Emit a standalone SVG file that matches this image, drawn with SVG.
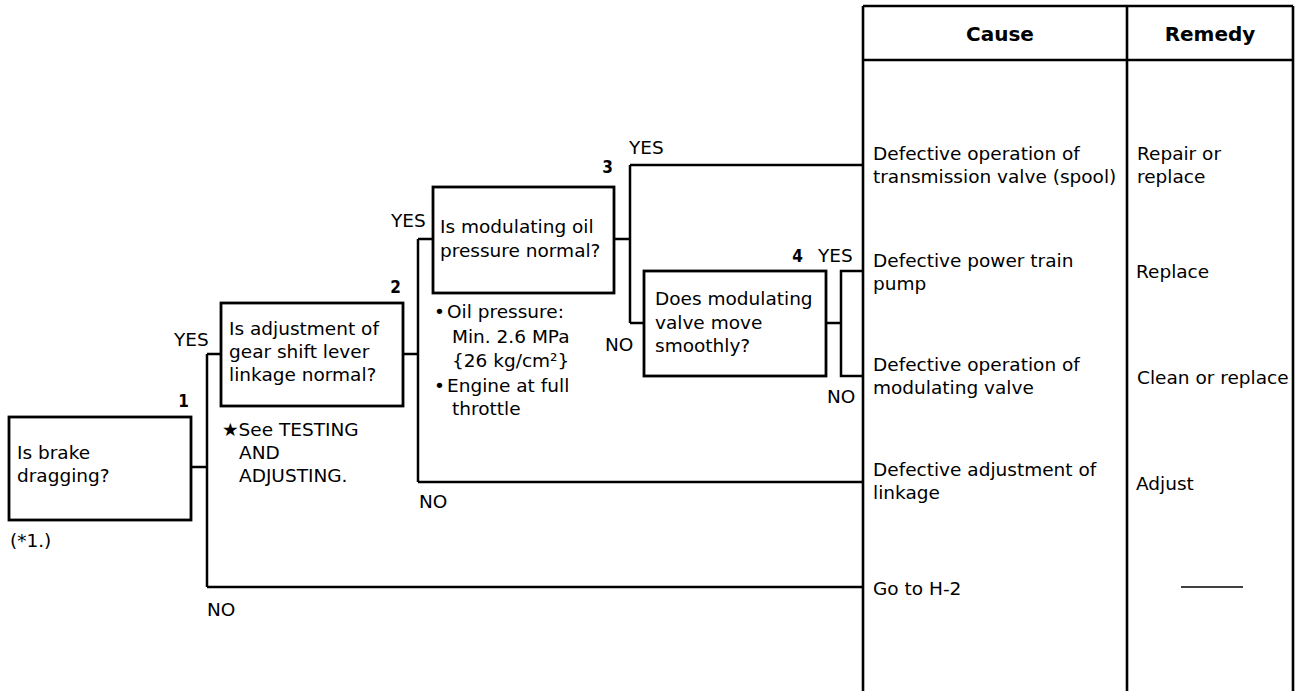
<svg xmlns="http://www.w3.org/2000/svg" width="1296" height="691" viewBox="0 0 1296 691">
<style>
text{font-family:"DejaVu Sans","Liberation Sans",sans-serif;font-size:18.5px;fill:#000}
.hd{font-weight:bold;font-size:20px;text-anchor:middle}
.num{font-family:"DejaVu Sans Condensed","DejaVu Sans",sans-serif;font-weight:bold;font-size:17px;text-anchor:end}
.box{fill:#fff;stroke:#000;stroke-width:2.8}
.ln{fill:none;stroke:#000;stroke-width:2.5}
.tb{fill:none;stroke:#000;stroke-width:2.6}
</style>
<rect width="1296" height="691" fill="#fff"/>
<g id="table">
<path class="tb" d="M863 6V691M863 6H1293M863 60H1293M1127 6V691M1293 6V691"/>
<text class="hd" x="1000" y="41">Cause</text>
<text class="hd" x="1210" y="41">Remedy</text>
</g>
<g id="connectors">
<path class="ln" d="M191 467H207M207 354V587M207 354H221M207 587H863"/>
<path class="ln" d="M403 354H418M418 239V482M418 239H433M418 482H863"/>
<path class="ln" d="M614 239H630M630 165V323M630 165H863M630 323H644"/>
<path class="ln" d="M826 323H841M863 271H841V376H863"/>
<text x="174" y="346">YES</text>
<text x="207" y="616">NO</text>
<text x="391" y="227">YES</text>
<text x="419" y="508">NO</text>
<text x="629" y="154">YES</text>
<text x="605" y="351">NO</text>
<text x="818" y="262">YES</text>
<text x="827" y="403">NO</text>
</g>
<g id="node1">
<rect class="box" x="9" y="417" width="182" height="103"/>
<text class="num" x="189" y="407">1</text>
<text x="17" y="459">Is brake</text>
<text x="17" y="482">dragging?</text>
<text x="10" y="547">(*1.)</text>
</g>
<g id="node2">
<rect class="box" x="221" y="303" width="182" height="103"/>
<text class="num" x="401" y="293">2</text>
<text x="229" y="335">Is adjustment of</text>
<text x="229" y="358">gear shift lever</text>
<text x="229" y="381">linkage normal?</text>
<text x="222" y="436">★See TESTING</text>
<text x="239" y="459">AND</text>
<text x="239" y="482">ADJUSTING.</text>
</g>
<g id="node3">
<rect class="box" x="433" y="187" width="181" height="106"/>
<text class="num" x="613" y="173">3</text>
<text x="440" y="233">Is modulating oil</text>
<text x="440" y="257">pressure normal?</text>
<text x="434" y="318">•</text><text x="447" y="318">Oil pressure:</text>
<text x="452" y="343">Min. 2.6 MPa</text>
<text x="452" y="367">{26 kg/cm²}</text>
<text x="434" y="392">•</text><text x="447" y="392">Engine at full</text>
<text x="452" y="415">throttle</text>
</g>
<g id="node4">
<rect class="box" x="644" y="271" width="182" height="105"/>
<text class="num" x="803" y="262">4</text>
<text x="655" y="305">Does modulating</text>
<text x="655" y="329">valve move</text>
<text x="655" y="352">smoothly?</text>
</g>
<g id="row1">
<text x="873" y="160">Defective operation of</text>
<text x="873" y="183">transmission valve (spool)</text>
<text x="1137" y="160">Repair or</text>
<text x="1137" y="183">replace</text>
</g>
<g id="row2">
<text x="873" y="267">Defective power train</text>
<text x="873" y="290">pump</text>
<text x="1136" y="278">Replace</text>
</g>
<g id="row3">
<text x="873" y="371">Defective operation of</text>
<text x="873" y="394">modulating valve</text>
<text x="1137" y="384">Clean or replace</text>
</g>
<g id="row4">
<text x="873" y="476">Defective adjustment of</text>
<text x="873" y="499">linkage</text>
<text x="1136" y="490">Adjust</text>
</g>
<g id="row5">
<text x="873" y="595">Go to H-2</text>
<path d="M1181 587H1243" stroke="#000" stroke-width="1.5"/>
</g>
</svg>
